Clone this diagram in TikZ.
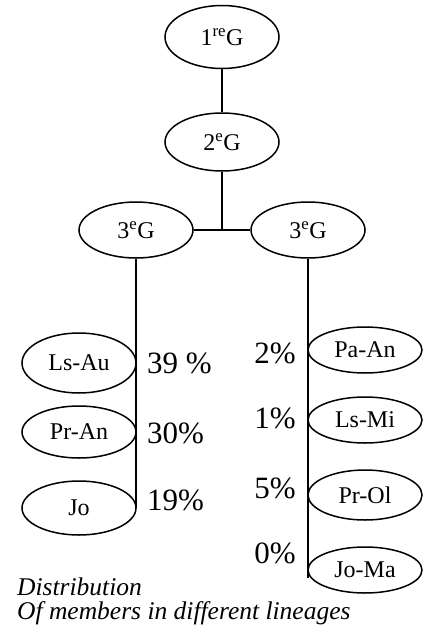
\documentclass[tikz,border=0pt]{standalone}
\usepackage{fontspec}
\setmainfont{Liberation Serif}
\usetikzlibrary{shapes.geometric}
\tikzset{
  gen/.style={draw, line width=1.5pt, ellipse, inner sep=0pt, minimum width=114pt, minimum height=#1, font=\fontsize{24}{26}\selectfont},
  gen/.default=58pt,
  memb/.style={draw, line width=1.5pt, ellipse, inner sep=0pt, minimum width=114pt, minimum height=#1, font=\fontsize{24}{26}\selectfont},
  memb/.default=52pt,
  pct/.style={inner sep=0pt, font=\fontsize{31}{33}\selectfont},
  link/.style={line width=2pt},
  captxt/.style={anchor=base west, inner sep=0pt, font=\fontsize{25.5}{27}\selectfont\itshape}
}
\begin{document}
\begin{tikzpicture}[x=1pt,y=-1pt]
\useasboundingbox (0,0) rectangle (426,634);
% generations
\node[gen=63pt] (g1) at (222,37) {1\textsuperscript{re}G};
\node[gen] (g2) at (222,142) {2\textsuperscript{e}G};
\node[gen=56pt] (g3l) at (136,230) {3\textsuperscript{e}G};
\node[gen=56pt] (g3r) at (308,230) {3\textsuperscript{e}G};
\coordinate (j) at (222,229);
\coordinate (lend) at (136,508);
\coordinate (rend) at (308,578);
% left lineage
\node[memb=60pt] (lsau) at (79,363) {Ls-Au};
\node[memb] (pran) at (79,432) {Pr-An};
\node[memb=54pt] (jo) at (79,508) {Jo};
% right lineage
\node[memb=46pt] (paan) at (365,350) {Pa-An};
\node[memb=46pt] (lsmi) at (365,420) {Ls-Mi};
\node[memb=50pt] (prol) at (365,495) {Pr-Ol};
\node[memb=46pt] (joma) at (365,570) {Jo-Ma};
% percentages
\node[pct, anchor=west] (p1) at (147,363) {39 \%};
\node[pct, anchor=west] (p2) at (147,433) {30\%};
\node[pct, anchor=west] (p3) at (147,500) {19\%};
\node[pct, anchor=east] (p4) at (296,353) {2\%};
\node[pct, anchor=east] (p5) at (296,418) {1\%};
\node[pct, anchor=east] (p6) at (296,488) {5\%};
\node[pct, anchor=east] (p7) at (296,553) {0\%};
% connectors
\draw[link] (g1.south) -- (g2.north);
\draw[link] (g2.south) -- (j);
\draw[link] (g3l.east) -- (g3r.west);
\draw[link] (g3l.south) -- (lend);
\draw[link] (g3r.south) -- (rend);
% caption
\node[captxt] (cap1) at (17,595) {Distribution};
\node[captxt] (cap2) at (17,619) {Of members in different lineages};
\end{tikzpicture}
\end{document}
